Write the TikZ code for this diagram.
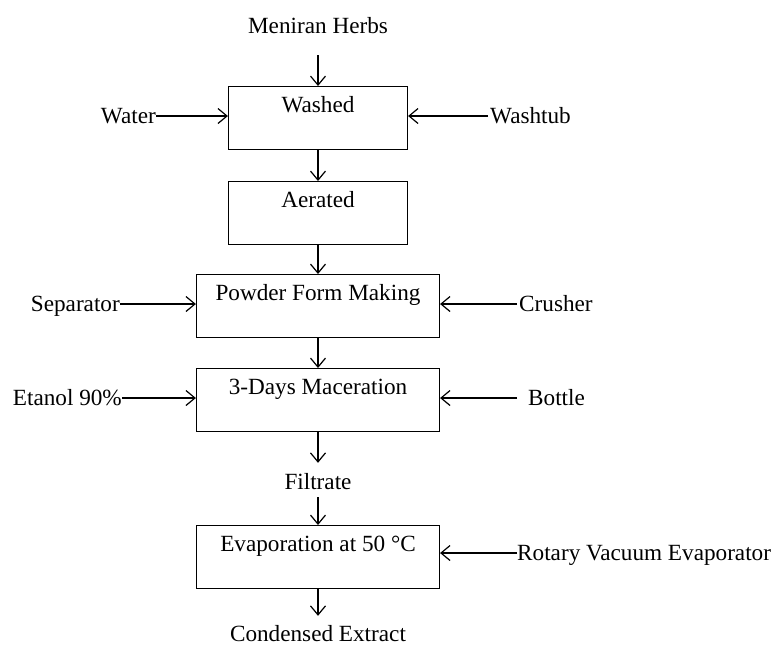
\documentclass[tikz,border=0pt]{standalone}
\usepackage{fontspec}
\setmainfont{Liberation Serif}
\usetikzlibrary{arrows.meta}

\tikzset{
  stage/.style={draw,line width=1.2pt,anchor=north,inner sep=0pt,
    text height=26pt,text depth=37pt,align=center},
  tag/.style={inner sep=0pt,text height=15pt,text depth=0pt},
  flow/.style={line width=1.2pt,-{Straight Barb[length=9pt,width=15pt,line width=1.2pt]}}
}

\begin{document}
\begin{tikzpicture}[x=1pt,y=-1pt,font=\fontsize{23.2}{28}\selectfont]

\useasboundingbox (0,0) rectangle (776,646);

\node[stage,minimum width=179pt] (washed) at (318,86) {Washed};
\node[stage,minimum width=179pt] (aerated) at (318,181) {Aerated};
\node[stage,minimum width=243pt] (powder) at (318,274) {Powder Form Making};
\node[stage,minimum width=243pt] (maceration) at (318,368) {3-Days Maceration};
\node[stage,minimum width=243pt] (evaporation) at (318,525) {Evaporation at 50 °C};

\node[tag,anchor=base] (herbs) at (318,33) {Meniran Herbs};
\node[tag,anchor=base] (filtrate) at (318,489) {Filtrate};
\node[tag,anchor=base] (extract) at (318,641) {Condensed Extract};

\node[tag,anchor=east] (water) at (156,116) {Water};
\node[tag,anchor=west] (washtub) at (490,116) {Washtub};
\node[tag,anchor=east] (separator) at (120,304) {Separator};
\node[tag,anchor=west] (crusher) at (519,304) {Crusher};
\node[tag,anchor=east] (etanol) at (122,398) {Etanol 90\%};
\node[tag,anchor=west] (bottle) at (528,398) {Bottle};
\node[tag,anchor=west] (rotary) at (517,553) {Rotary Vacuum Evaporator};

\draw[flow,shorten <=22pt] (herbs.base) -- (washed.north);
\draw[flow] (washed) -- (aerated);
\draw[flow] (aerated) -- (powder);
\draw[flow] (powder) -- (maceration);
\draw[flow,shorten >=11pt] (maceration.south) -- (filtrate.north);
\draw[flow,shorten <=8pt] (filtrate.base) -- (evaporation.north);
\draw[flow,shorten >=10pt] (evaporation.south) -- (extract.north);

\draw[flow] (water.east) -- (water.east -| washed.west);
\draw[flow,shorten <=2pt] (washtub.west) -- (washtub.west -| washed.east);
\draw[flow] (separator.east) -- (separator.east -| powder.west);
\draw[flow,shorten <=2pt] (crusher.west) -- (crusher.west -| powder.east);
\draw[flow] (etanol.east) -- (etanol.east -| maceration.west);
\draw[flow,shorten <=11pt] (bottle.west) -- (bottle.west -| maceration.east);
\draw[flow] (rotary.west) -- (rotary.west -| evaporation.east);

\end{tikzpicture}
\end{document}
